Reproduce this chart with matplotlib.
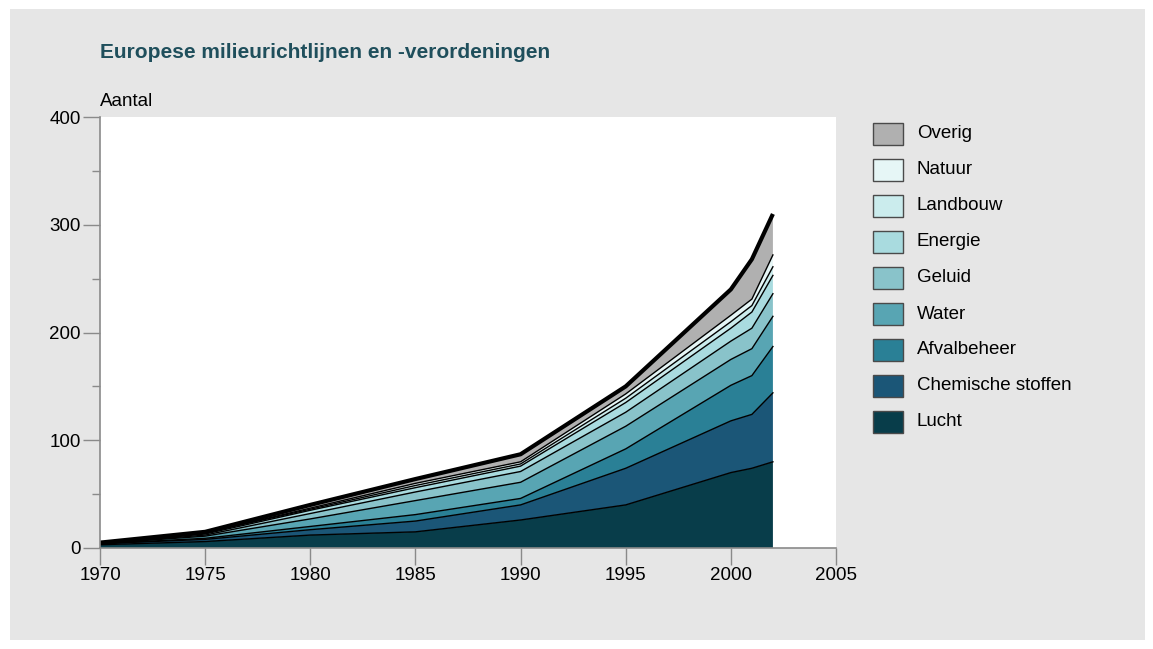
import matplotlib.pyplot as plt
import numpy as np
from matplotlib.patches import Rectangle

# cumulative number of EU directives per category
years = [1970, 1975, 1980, 1985, 1990, 1995, 2000, 2001, 2002]
lucht = [3, 6, 12, 15, 26, 40, 70, 74, 80]
chemische_stoffen = [1, 2, 5, 10, 14, 34, 48, 50, 64]
afvalbeheer = [0, 1, 3, 6, 6, 18, 33, 36, 43]
water = [0, 2, 7, 13, 15, 21, 24, 25, 28]
geluid = [0, 1, 5, 8, 10, 13, 17, 19, 21]
energie = [0, 1, 3, 4, 5, 9, 12, 15, 17]
landbouw = [0, 1, 1, 2, 2, 4, 6, 6, 8]
natuur = [0, 0, 1, 2, 2, 4, 6, 6, 11]
overig = [1, 1, 3, 4, 7, 7, 24, 37, 38]

labels = ['Lucht', 'Chemische stoffen', 'Afvalbeheer', 'Water', 'Geluid',
          'Energie', 'Landbouw', 'Natuur', 'Overig']
colors = ['#083d4a', '#1b5677', '#2a8096', '#58a5b3', '#89c3ca',
          '#a9dbdf', '#cbeced', '#e6f6f6', '#b0b0b0']

series = np.array([lucht, chemische_stoffen, afvalbeheer, water, geluid,
                   energie, landbouw, natuur, overig])

plt.rcParams['font.family'] = ['Liberation Sans', 'DejaVu Sans']

W, H = 1153, 649
fig = plt.figure(figsize=(W / 100, H / 100), dpi=100)
fig.patch.set_facecolor('white')
fig.patches.append(Rectangle((10 / W, 9 / H), 1135 / W, 631 / H, transform=fig.transFigure,
                             facecolor='#e6e6e6', edgecolor='none', zorder=-1))

ax = fig.add_axes([100 / W, 1 - 548 / H, 736 / W, 431 / H])
ax.set_facecolor('white')

ax.stackplot(years, series, colors=colors, linewidth=0)
cum = np.cumsum(series, axis=0)
for row in cum[:-1]:
    ax.plot(years, row, color='black', lw=1)
ax.plot(years, cum[-1], color='black', lw=3, solid_capstyle='butt')

ax.set_xlim(1970, 2005)
ax.set_ylim(0, 400)
ax.set_xticks(range(1970, 2006, 5))
ax.set_yticks(range(0, 401, 100))
ax.set_yticks(range(50, 400, 100), minor=True)

for s in ['top', 'right']:
    ax.spines[s].set_visible(False)
for s in ['left', 'bottom']:
    ax.spines[s].set_color('#8a8a8a')
    ax.spines[s].set_linewidth(1.2)

ax.tick_params(axis='both', which='major', direction='out', length=12, width=1,
               color='#8a8a8a', labelsize=13.5, pad=2)
ax.tick_params(axis='y', which='minor', direction='out', length=6, width=1, color='#8a8a8a')

fig.text(100 / W, 1 - 53 / H, 'Europese milieurichtlijnen en -verordeningen',
         fontsize=15, fontweight='bold', color='#1f4f5c', va='center', ha='left')
fig.text(100 / W, 1 - 101 / H, 'Aantal', fontsize=13.5, va='center', ha='left')

# legend, top to bottom
for i, idx in enumerate(range(len(labels) - 1, -1, -1)):
    yc = 134 + i * 36
    fig.patches.append(Rectangle((873 / W, 1 - (yc + 11) / H), 30 / W, 22 / H,
                                 transform=fig.transFigure, facecolor=colors[idx],
                                 edgecolor='#4a4a4a', lw=1))
    fig.text(917 / W, 1 - yc / H, labels[idx], fontsize=13.5, va='center', ha='left')

fig.savefig('out.png', dpi=100)
